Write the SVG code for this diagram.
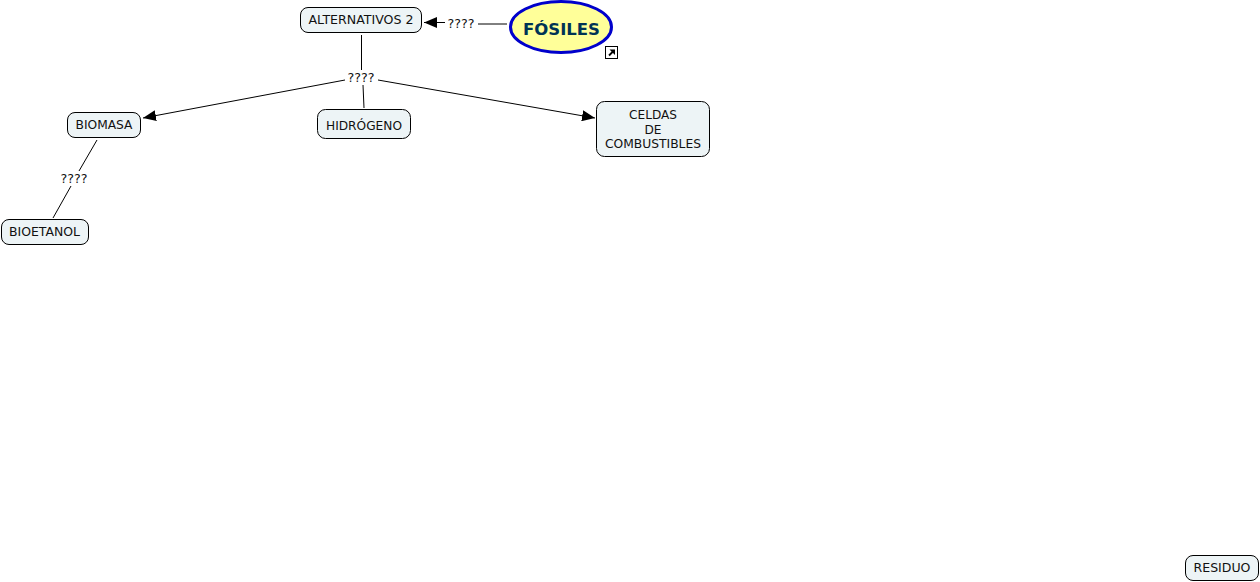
<svg xmlns="http://www.w3.org/2000/svg" width="1260" height="582" viewBox="0 0 1260 582">
<style>
text{font-family:"DejaVu Sans",Verdana,sans-serif;font-size:11.5px;fill:#111;text-anchor:middle}
.n rect{fill:#edf4f6;stroke:#000;stroke-width:1}
.c line{stroke:#000;stroke-width:1}
</style>
<defs><marker id="a" markerUnits="userSpaceOnUse" markerWidth="13" markerHeight="11" refX="13" refY="5.500" orient="auto"><path d="M0 0L13 5.500L0 11Z" fill="#000"/></marker></defs>
<rect width="1260" height="582" fill="#fff"/>
<g id="connectors" class="c">
<line x1="507" y1="24" x2="478" y2="24"/>
<line x1="445" y1="22.500" x2="424" y2="22.500" marker-end="url(#a)"/>
<line x1="361.500" y1="35" x2="361.500" y2="70"/>
<line x1="345" y1="80" x2="143" y2="118" marker-end="url(#a)"/>
<line x1="378" y1="80" x2="595" y2="118" marker-end="url(#a)"/>
<line x1="363" y1="85" x2="364" y2="108"/>
<line x1="97" y1="140" x2="79" y2="171"/>
<line x1="71" y1="186" x2="53" y2="218"/>
</g>
<g id="l1"><text x="461" y="27.500" textLength="27" lengthAdjust="spacingAndGlyphs">????</text></g>
<g id="l2"><text x="361" y="82" textLength="27" lengthAdjust="spacingAndGlyphs">????</text></g>
<g id="l3"><text x="74" y="182.500" textLength="27" lengthAdjust="spacingAndGlyphs">????</text></g>
<g id="n-alternativos" class="n"><rect x="300.500" y="7.500" width="121" height="25" rx="7.500"/><text x="361" y="24" textLength="105" lengthAdjust="spacingAndGlyphs">ALTERNATIVOS 2</text></g>
<g id="n-fosiles"><ellipse cx="561" cy="27" rx="50.500" ry="25.500" fill="#ffff99" stroke="#0000cc" stroke-width="3"/><text x="561.500" y="35" style="font-size:15px;font-weight:700;fill:#003355" textLength="77" lengthAdjust="spacingAndGlyphs">FÓSILES</text></g>
<g id="n-link"><rect x="605.500" y="46.500" width="12" height="12" fill="#fff" stroke="#000"/><path d="M609 55.500L613 51.500" stroke="#000" stroke-width="1.800"/><path d="M609.500 49.500H615V55Z" fill="#000"/></g>
<g id="n-biomasa" class="n"><rect x="67.500" y="112.500" width="73" height="25" rx="7.500"/><text x="104" y="129" textLength="57" lengthAdjust="spacingAndGlyphs">BIOMASA</text></g>
<g id="n-hidrogeno" class="n"><rect x="317.500" y="109.500" width="93" height="29" rx="8"/><text x="364" y="129.500" textLength="76" lengthAdjust="spacingAndGlyphs">HIDRÓGENO</text></g>
<g id="n-celdas" class="n"><rect x="596.500" y="101.500" width="113" height="55" rx="8"/><text x="653" y="119" textLength="48" lengthAdjust="spacingAndGlyphs">CELDAS</text><text x="653" y="133.500" textLength="17" lengthAdjust="spacingAndGlyphs">DE</text><text x="653" y="148" textLength="96" lengthAdjust="spacingAndGlyphs">COMBUSTIBLES</text></g>
<g id="n-bioetanol" class="n"><rect x="1.500" y="219.500" width="87" height="25" rx="7.500"/><text x="44.500" y="236" textLength="71" lengthAdjust="spacingAndGlyphs">BIOETANOL</text></g>
<g id="n-residuo" class="n"><rect x="1185.500" y="555.500" width="73" height="25" rx="7.500"/><text x="1222" y="572" textLength="57" lengthAdjust="spacingAndGlyphs">RESIDUO</text></g>
</svg>
